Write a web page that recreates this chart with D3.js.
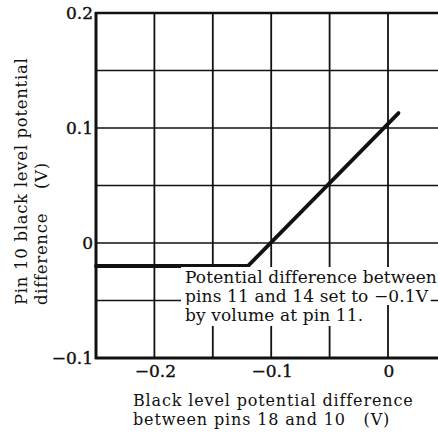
<!DOCTYPE html>
<html>
<head>
<meta charset="utf-8">
<script src="https://cdn.jsdelivr.net/npm/d3@7"></script>
<style>
  html, body { margin: 0; padding: 0; background: #fff; }
  svg { display: block; }
  text { font-family: "DejaVu Serif", "Liberation Serif", serif; fill: #111; }
</style>
</head>
<body>
<script>
// ---- data ----
const xTickValues = [-0.2, -0.1, 0];
const xTickLabels = ["\u22120.2", "\u22120.1", "0"];
const yTickValues = [-0.1, 0, 0.1, 0.2];
const yTickLabels = ["\u22120.1", "0", "0.1", "0.2"];
const xGrid = [-0.2, -0.15, -0.1, -0.05, 0];
const yGrid = [-0.05, 0, 0.05, 0.1, 0.15];
const seriesX = [-0.25, -0.12, 0.009];
const seriesY = [-0.02, -0.02, 0.113];
const annotationLines = ["Potential difference between", "pins 11 and 14 set to \u22120.1V", "by volume at pin 11."];
const xTitleLines = ["Black level potential difference", "between pins 18 and 10\u00a0\u00a0 (V)"];
const yTitleLines = ["Pin 10 black level potential", "difference\u00a0\u00a0\u00a0\u00a0(V)"];

// ---- layout ----
const W = 438, H = 435;
const svg = d3.select("body").append("svg").attr("width", W).attr("height", H);

const x = d3.scaleLinear().domain([-0.25, 0.05]).range([96, 96 + 0.3 * 1168]);
const y = d3.scaleLinear().domain([-0.1, 0.2]).range([358, 13]);

// grid
svg.append("g").selectAll("line").data(xGrid).join("line")
  .attr("x1", d => x(d)).attr("x2", d => x(d))
  .attr("y1", y(0.2)).attr("y2", y(-0.1))
  .attr("stroke", "#111").attr("stroke-width", 1.8);
svg.append("g").selectAll("line").data(yGrid).join("line")
  .attr("x1", x(-0.25)).attr("x2", W)
  .attr("y1", d => y(d)).attr("y2", d => y(d))
  .attr("stroke", "#111").attr("stroke-width", 1.7);

// frame
svg.append("line").attr("x1", x(-0.25) - 1).attr("x2", W).attr("y1", y(0.2)).attr("y2", y(0.2))
  .attr("stroke", "#111").attr("stroke-width", 2.6);
svg.append("line").attr("x1", x(-0.25) - 1).attr("x2", W).attr("y1", y(-0.1)).attr("y2", y(-0.1))
  .attr("stroke", "#111").attr("stroke-width", 2.8);
svg.append("line").attr("x1", x(-0.25)).attr("x2", x(-0.25)).attr("y1", y(0.2) - 1).attr("y2", y(-0.1) + 1)
  .attr("stroke", "#111").attr("stroke-width", 3);

// series
const pts = seriesX.map((d, i) => [d, seriesY[i]]);
svg.append("path").datum(pts)
  .attr("d", d3.line().x(d => x(d[0])).y(d => y(d[1])))
  .attr("fill", "none").attr("stroke", "#111").attr("stroke-width", 3.8)
  .attr("stroke-linecap", "round").attr("stroke-linejoin", "miter");

// annotation with white background per line
const ann = svg.append("g");
const annBaselines = [283, 302, 321];
annotationLines.forEach((t, i) => {
  const bg = ann.append("rect").attr("fill", "#fff");
  const tx = ann.append("text").attr("x", 185).attr("y", annBaselines[i])
    .attr("font-size", 17).attr("letter-spacing", 0.12).text(t);
  const bb = tx.node().getBBox();
  const top = i === 0 ? 267 : annBaselines[i - 1] + 3;
  const bottom = annBaselines[i] + (i === 2 ? 5 : 3);
  bg.attr("x", 181).attr("y", top).attr("width", bb.width + 6).attr("height", bottom - top);
});

// y tick labels
svg.append("g").selectAll("text").data(yTickValues).join("text")
  .attr("x", 93).attr("y", d => y(d)).attr("dy", "0.37em")
  .attr("text-anchor", "end").attr("font-size", 17)
  .attr("stroke", "#111").attr("stroke-width", 0.4)
  .text((d, i) => yTickLabels[i]);

// x tick labels
svg.append("g").selectAll("text").data(xTickValues).join("text")
  .attr("x", d => x(d) + 1).attr("y", 377)
  .attr("text-anchor", "middle").attr("font-size", 17)
  .attr("stroke", "#111").attr("stroke-width", 0.4)
  .text((d, i) => xTickLabels[i]);

// x title
svg.append("g").selectAll("text").data(xTitleLines).join("text")
  .attr("x", 133).attr("y", (d, i) => 406 + i * 19)
  .attr("font-size", 16).attr("letter-spacing", 0.85).text(d => d);

// y title
svg.append("g").selectAll("text").data(yTitleLines).join("text")
  .attr("transform", (d, i) => `translate(${27 + i * 20},305) rotate(-90)`)
  .attr("font-size", 16.5).attr("letter-spacing", 0.7).text(d => d);
</script>
</body>
</html>
